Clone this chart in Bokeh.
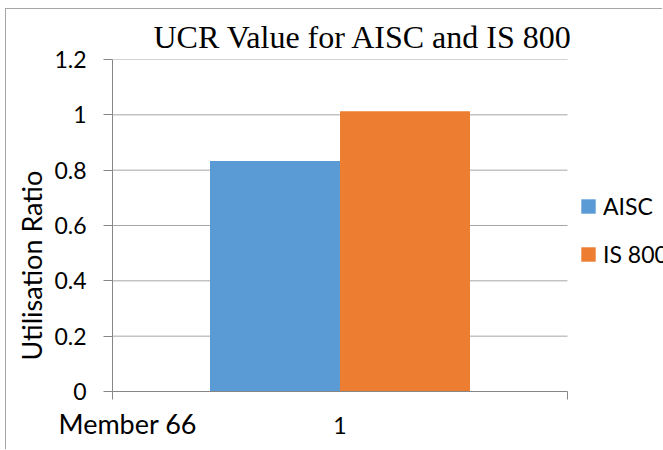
from bokeh.plotting import figure
from bokeh.models import (Range1d, FixedTicker, Legend, LegendItem, Title,
                          ColumnDataSource)
from bokeh.transform import dodge
from bokeh.embed import file_html
from bokeh.resources import INLINE

# ---- data ----
title_text = "UCR Value for AISC and IS 800"
categories = [1.0]
category_labels = ["1"]
series_names = ["AISC", "IS 800"]
aisc_values = [0.833]
is800_values = [1.013]
y_ticks = [0.0, 0.2, 0.4, 0.6, 0.8, 1.0, 1.2]
y_tick_labels = ["0", "0.2", "0.4", "0.6", "0.8", "1", "1.2"]
y_axis_title = "Utilisation Ratio"
x_axis_title = "Member 66"
colors = ["#5B9BD5", "#ED7D31"]

# ---- layout / style ----
bar_w = 1 / 3.5
axis_color = "#868686"
grid_color = "#a6a6a6"
sans = "Lato"
cat_lo, cat_hi = 0.5, 1.5            # category band of the plot area
plot_px = 455                          # plot-area width in px
legend_px = 96                         # room to the right of the plot area
x_end = cat_hi + legend_px / plot_px   # frame extends under the legend

source = ColumnDataSource(dict(x=categories, aisc=aisc_values, is800=is800_values))

p = figure(width=657, height=441, output_backend="svg", toolbar_location=None,
           x_range=Range1d(cat_lo, x_end), y_range=Range1d(0, 1.2),
           min_border_left=106, min_border_right=0,
           min_border_top=50, min_border_bottom=59)
p.styles = {"margin-left": "5px", "margin-top": "8px",
            "border-top": "1px solid #a6a6a6", "border-left": "1px solid #a6a6a6"}
p.outline_line_color = None
p.background_fill_color = "white"
p.border_fill_color = "white"

# horizontal gridlines across the category band only
p.xgrid.visible = False
p.ygrid.visible = False
p.segment(x0=cat_lo, x1=cat_hi, y0=y_ticks[1:], y1=y_ticks[1:],
          line_color=grid_color, line_width=1)

r1 = p.vbar(x=dodge("x", -bar_w / 2), top="aisc", width=bar_w, source=source,
            fill_color=colors[0], line_color=None)
r2 = p.vbar(x=dodge("x", bar_w / 2), top="is800", width=bar_w, source=source,
            fill_color=colors[1], line_color=None)

# y axis
p.yaxis.ticker = FixedTicker(ticks=y_ticks)
p.yaxis.major_label_overrides = dict(zip(y_ticks, y_tick_labels))
p.yaxis.axis_line_color = axis_color
p.yaxis.major_tick_line_color = axis_color
p.yaxis.major_tick_out = 9
p.yaxis.major_tick_in = 0
p.yaxis.minor_tick_line_color = None
p.yaxis.major_label_standoff = 17
p.yaxis.major_label_text_font = sans
p.yaxis.major_label_text_font_size = "23px"
p.yaxis.major_label_text_color = "black"

# x axis
p.xaxis.bounds = (cat_lo, cat_hi)
p.xaxis.ticker = FixedTicker(ticks=categories, minor_ticks=[cat_lo, cat_hi])
p.xaxis.major_label_overrides = dict(zip(categories, category_labels))
p.xaxis.axis_line_color = axis_color
p.xaxis.major_tick_line_color = None
p.xaxis.major_tick_out = 0
p.xaxis.major_tick_in = 0
p.xaxis.minor_tick_line_color = axis_color
p.xaxis.minor_tick_out = 8
p.xaxis.minor_tick_in = 0
p.xaxis.major_label_standoff = 17
p.xaxis.major_label_text_font = sans
p.xaxis.major_label_text_font_size = "23px"
p.xaxis.major_label_text_color = "black"

# main title
p.title.text = title_text
p.title.align = "left"
p.title.offset = 41
p.title.standoff = 10
p.title.vertical_align = "bottom"
p.title.text_font = "Liberation Serif"
p.title.text_font_size = "32px"
p.title.text_font_style = "normal"
p.title.text_color = "black"

# y axis title
p.add_layout(Title(text=y_axis_title, align="left", offset=31,
                   vertical_align="bottom", standoff=7, text_font=sans,
                   text_font_size="27px", text_font_style="normal",
                   text_color="black"), "left")

# x axis title
p.add_layout(Title(text=x_axis_title, align="left", offset=-54,
                   vertical_align="top", standoff=-60, text_font=sans,
                   text_font_size="27px", text_font_style="normal",
                   text_color="black"), "below")

# legend (inside the frame, to the right of the category band)
legend = Legend(items=[LegendItem(label=series_names[0], renderers=[r1]),
                       LegendItem(label=series_names[1], renderers=[r2])],
                location=(467, 123), orientation="vertical",
                glyph_width=18, glyph_height=18, label_height=28,
                label_standoff=6, spacing=20, padding=0, margin=0,
                border_line_color=None, background_fill_alpha=0,
                label_text_font=sans, label_text_font_size="23px",
                label_text_color="black")
p.add_layout(legend)

open("out.html", "w").write(file_html(p, INLINE))
